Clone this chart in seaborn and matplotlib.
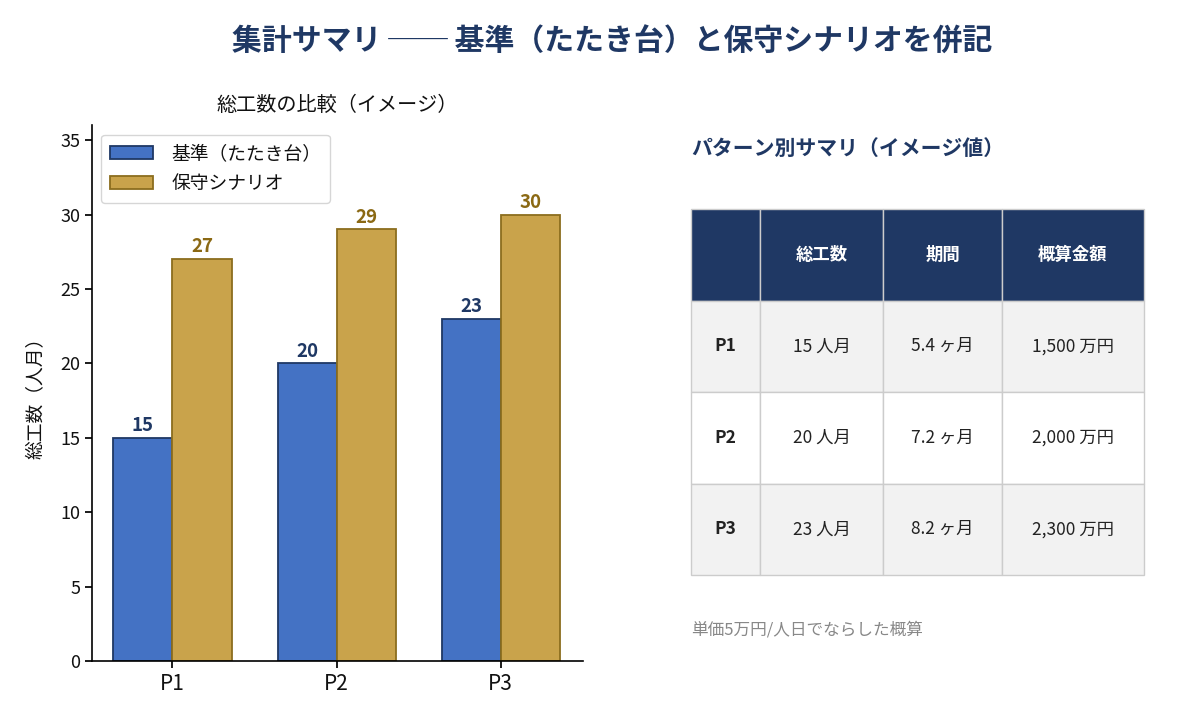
import matplotlib
matplotlib.use("Agg")
import matplotlib.pyplot as plt
import seaborn as sns
import pandas as pd
from matplotlib.patches import Patch

categories = ["P1", "P2", "P3"]
series_names = ["基準（たたき台）", "保守シナリオ"]
base_values = [15, 20, 23]
conservative_values = [27, 29, 30]

table_header = ["", "総工数", "期間", "概算金額"]
row_labels = ["P1", "P2", "P3"]
effort_col = ["15 人月", "20 人月", "23 人月"]
period_col = ["5.4 ヶ月", "7.2 ヶ月", "8.2 ヶ月"]
cost_col = ["1,500 万円", "2,000 万円", "2,300 万円"]

y_ticks = [0, 5, 10, 15, 20, 25, 30, 35]

sns.set_theme(style="white")
plt.rcParams['font.family'] = ['Noto Sans CJK JP', 'DejaVu Sans']

NAVY = "#1f3864"
BLUE = "#4472c4"
GOLD = "#c9a34b"
GOLD_EDGE = "#8b6d1e"
GOLD_TEXT = "#8b6914"

df = pd.DataFrame({
    "cat": categories * 2,
    "series": [series_names[0]] * 3 + [series_names[1]] * 3,
    "val": base_values + conservative_values,
})

fig = plt.figure(figsize=(12, 7.25), dpi=100)
ax = fig.add_axes([0.0767, 0.0883, 0.409, 0.739])

sns.barplot(data=df, x="cat", y="val", hue="series", order=categories,
            hue_order=series_names, palette=[BLUE, GOLD], width=0.72,
            ax=ax, saturation=1, linewidth=1.3)

edge_cols = [NAVY, GOLD_EDGE]
text_cols = [NAVY, GOLD_TEXT]
face_cols = [BLUE, GOLD]
for i, cont in enumerate(ax.containers):
    for p in cont.patches:
        p.set_edgecolor(edge_cols[i])
    ax.bar_label(cont, labels=[str(int(v)) for v in cont.datavalues], padding=2,
                 color=text_cols[i], fontsize=13.5, fontweight="bold")

ax.set_ylim(0, 36)
ax.set_xlim(-0.49, 2.5)
ax.set_yticks(y_ticks)
ax.tick_params(axis="y", labelsize=13, left=True, length=5, color="black", labelcolor="#111111")
ax.tick_params(axis="x", labelsize=15, bottom=True, length=5, color="black", labelcolor="#111111")
for s in ["top", "right"]:
    ax.spines[s].set_visible(False)
for s in ["left", "bottom"]:
    ax.spines[s].set_color("black")
    ax.spines[s].set_linewidth(1.2)
ax.set_xlabel("")
ax.set_ylabel("総工数（人月）", fontsize=13.5, color="#111111", labelpad=10)
ax.set_title("総工数の比較（イメージ）", fontsize=14.5, color="#111111", pad=10)
handles = [Patch(facecolor=face_cols[i], edgecolor=edge_cols[i], linewidth=1.3,
                 label=series_names[i]) for i in range(2)]
leg = ax.legend(handles=handles, loc="upper left", fontsize=13.5, frameon=True,
                fancybox=True, borderpad=0.45, handlelength=2.3, handletextpad=1.0)
leg.get_frame().set_edgecolor("#cccccc")
for t in leg.get_texts():
    t.set_color("#111111")

fig.text(0.51, 0.943, "集計サマリ ── 基準（たたき台）と保守シナリオを併記",
         ha="center", va="center", fontsize=21.5, fontweight="bold", color=NAVY)

fig.text(691 / 1200, 1 - 148 / 725, "パターン別サマリ（イメージ値）",
         ha="left", va="center", fontsize=15, fontweight="bold", color=NAVY)

tax = fig.add_axes([691 / 1200, 1 - 575 / 725, (1144 - 691) / 1200, (575 - 209) / 725])
tax.axis("off")
cell_text = [table_header] + [[row_labels[i], effort_col[i], period_col[i], cost_col[i]]
                              for i in range(3)]
col_w = [69, 123, 119, 142]
tot = sum(col_w)
tbl = tax.table(cellText=cell_text, bbox=[0, 0, 1, 1], cellLoc="center",
                colWidths=[w / tot for w in col_w])
tbl.auto_set_font_size(False)
for (r, c), cell in tbl.get_celld().items():
    cell.set_edgecolor("#cccccc")
    cell.set_linewidth(1.0)
    txt = cell.get_text()
    txt.set_fontsize(12.5)
    if r == 0:
        cell.set_facecolor(NAVY)
        txt.set_color("white")
        txt.set_fontweight("bold")
    else:
        cell.set_facecolor("#f2f2f2" if r % 2 == 1 else "white")
        txt.set_color("#222222")
        if c == 0:
            txt.set_fontweight("bold")

fig.text(691 / 1200, 1 - 630 / 725, "単価5万円/人日でならした概算",
         ha="left", va="center", fontsize=12, color="#888888")

fig.savefig("out.png", dpi=100, facecolor="white")
